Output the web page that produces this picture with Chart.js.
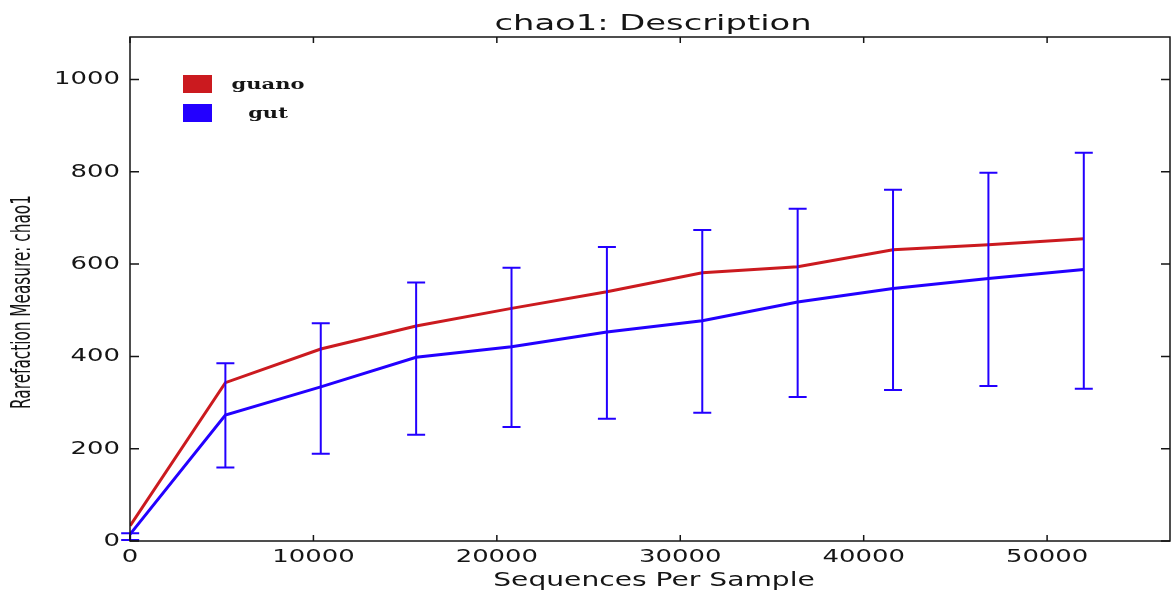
<!DOCTYPE html>
<html lang="en">
<head>
    <meta charset="UTF-8">
    <title>chao1: Description</title>
    <script src="https://cdn.jsdelivr.net/npm/chart.js"></script>
    <style>
        body {
            margin: 0;
            background: #ffffff;
        }

        #wrap {
            width: 1171px;
            height: 592px;
        }
    </style>
</head>
<body>
    <div id="wrap">
        <canvas id="rareChart" width="1171" height="592"></canvas>
    </div>

    <script>
        // rarefaction depths and chao1 values
        const seqs = [10, 5200, 10400, 15600, 20800, 26000, 31200, 36400, 41600, 46800, 52000];
        const guano = [33, 343, 416, 466, 504, 540, 581, 594, 631, 642, 655];
        const gut = [15, 273, 334, 398, 421, 453, 477, 518, 547, 569, 588];
        const gutLow = [2, 159, 189, 230, 247, 265, 278, 312, 327, 336, 330];
        const gutHigh = [17, 385, 472, 560, 592, 637, 674, 720, 761, 798, 841];
        const xTicks = [0, 10000, 20000, 30000, 40000, 50000];
        const yTicks = [0, 200, 400, 600, 800, 1000];

        const RED = '#cb1a1f';
        const BLUE = '#2300ff';
        const INK = '#151515';

        // the picture is stretched sideways, so text is drawn squeezed the same way
        function wideText(ctx, txt, x, y, font, sx, align) {
            ctx.save();
            ctx.translate(x, y);
            ctx.scale(sx, 1);
            ctx.font = font;
            ctx.fillStyle = INK;
            ctx.textAlign = align;
            ctx.textBaseline = 'alphabetic';
            ctx.fillText(txt, 0, 0);
            ctx.restore();
        }

        const errorBars = {
            id: 'errorBars',
            afterDatasetsDraw(chart) {
                const { ctx, scales: { x, y } } = chart;
                ctx.save();
                ctx.strokeStyle = BLUE;
                ctx.lineWidth = 2;
                seqs.forEach((s, i) => {
                    const px = x.getPixelForValue(s);
                    const lo = y.getPixelForValue(gutLow[i]);
                    const hi = y.getPixelForValue(gutHigh[i]);
                    ctx.beginPath();
                    ctx.moveTo(px, lo);
                    ctx.lineTo(px, hi);
                    ctx.moveTo(px - 9, lo);
                    ctx.lineTo(px + 9, lo);
                    ctx.moveTo(px - 9, hi);
                    ctx.lineTo(px + 9, hi);
                    ctx.stroke();
                });
                ctx.restore();
            }
        };

        const frame = {
            id: 'frame',
            afterDraw(chart) {
                const { ctx, chartArea: a, scales: { x, y } } = chart;
                ctx.save();
                ctx.strokeStyle = INK;
                ctx.lineWidth = 1.5;
                ctx.strokeRect(a.left, a.top, a.right - a.left, a.bottom - a.top);

                // matplotlib style ticks, pointing inwards on every side
                ctx.beginPath();
                xTicks.forEach(v => {
                    const px = x.getPixelForValue(v);
                    ctx.moveTo(px, a.bottom);
                    ctx.lineTo(px, a.bottom - 6);
                    ctx.moveTo(px, a.top);
                    ctx.lineTo(px, a.top + 6);
                });
                yTicks.forEach(v => {
                    const py = y.getPixelForValue(v);
                    ctx.moveTo(a.left, py);
                    ctx.lineTo(a.left + 9, py);
                    ctx.moveTo(a.right, py);
                    ctx.lineTo(a.right - 9, py);
                });
                ctx.stroke();
                ctx.restore();

                const tickFont = "17.5px 'DejaVu Sans'";
                xTicks.forEach(v => {
                    wideText(ctx, String(v), x.getPixelForValue(v), 562, tickFont, 1.48, 'center');
                });
                yTicks.forEach(v => {
                    wideText(ctx, String(v), a.left - 10, y.getPixelForValue(v) + 5, tickFont, 1.48, 'right');
                });

                wideText(ctx, 'chao1: Description', (a.left + a.right) / 2 + 3, 30, "21.5px 'DejaVu Sans'", 1.57, 'center');
                wideText(ctx, 'Sequences Per Sample', (a.left + a.right) / 2 + 4, 586, "19px 'DejaVu Sans'", 1.48, 'center');

                // y title: condensed face, only its thickness gets stretched
                ctx.save();
                ctx.translate(30, 302);
                ctx.scale(1.55, 1);
                ctx.rotate(-Math.PI / 2);
                ctx.font = "17px 'DejaVu Sans Condensed', 'DejaVu Sans'";
                ctx.fontStretch = 'condensed';
                ctx.fillStyle = INK;
                ctx.textAlign = 'center';
                ctx.textBaseline = 'alphabetic';
                ctx.fillText('Rarefaction Measure: chao1', 0, 0);
                ctx.restore();

                // legend inside the plot, top left
                const rows = [84, 113];
                chart.data.datasets.forEach((ds, i) => {
                    const cy = rows[i];
                    ctx.fillStyle = ds.borderColor;
                    ctx.fillRect(183, cy - 9, 29, 18);
                    wideText(ctx, ds.label, 268, cy + 5, "bold 15px 'DejaVu Serif'", 1.4, 'center');
                });
            }
        };

        new Chart(document.getElementById('rareChart'), {
            type: 'line',
            data: {
                datasets: [
                    {
                        label: 'guano',
                        data: seqs.map((s, i) => ({ x: s, y: guano[i] })),
                        borderColor: RED,
                        borderWidth: 3,
                        pointRadius: 0,
                        tension: 0,
                        fill: false
                    },
                    {
                        label: 'gut',
                        data: seqs.map((s, i) => ({ x: s, y: gut[i] })),
                        borderColor: BLUE,
                        borderWidth: 3,
                        pointRadius: 0,
                        tension: 0,
                        fill: false
                    }
                ]
            },
            options: {
                responsive: false,
                animation: false,
                layout: { padding: { top: 37, right: 1, left: 0, bottom: 0 } },
                plugins: {
                    legend: { display: false },
                    tooltip: { enabled: false },
                    title: { display: false }
                },
                scales: {
                    x: {
                        type: 'linear',
                        min: 0,
                        max: 56700,
                        grid: { display: false },
                        border: { display: false },
                        ticks: { display: false, stepSize: 10000 },
                        afterFit(scale) { scale.height = 51; }
                    },
                    y: {
                        type: 'linear',
                        min: 0,
                        max: 1092,
                        grid: { display: false },
                        border: { display: false },
                        ticks: { display: false, stepSize: 200 },
                        afterFit(scale) { scale.width = 130; }
                    }
                }
            },
            plugins: [errorBars, frame]
        });
    </script>
</body>
</html>
